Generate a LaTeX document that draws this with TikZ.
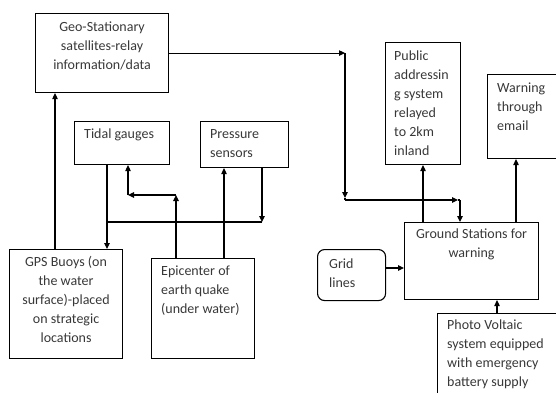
\documentclass[tikz,border=0pt]{standalone}
\usepackage{fontspec}
\setmainfont{Carlito}
\usetikzlibrary{arrows.meta}
\begin{document}
\begin{tikzpicture}[x=1pt,y=-1pt,
  box/.style={draw, line width=1.1pt, inner sep=0pt, anchor=north west},
  txt/.style={font=\fontsize{14}{19}\selectfont, inner sep=0pt, text=black!78},
  ln/.style={line width=1.1pt},
  arr/.style={line width=1.1pt, -{Triangle[length=6pt,width=5.5pt]}}]
\useasboundingbox (0,0) rectangle (556,392);
\clip (0,0) rectangle (556,392);
% boxes
\node[box, minimum width=133pt, minimum height=79pt] (geo) at (35,13) {};
\node[box, minimum width=95pt, minimum height=43pt] (tidal) at (74,121) {};
\node[box, minimum width=88pt, minimum height=46pt] (press) at (200,121) {};
\node[box, minimum width=75pt, minimum height=122pt] (pub) at (385,42) {};
\node[box, minimum width=80pt, minimum height=84pt] (warn) at (487,74) {};
\node[box, minimum width=134pt, minimum height=77pt] (ground) at (404,222) {};
\node[box, rounded corners=7pt, minimum width=68pt, minimum height=51pt] (grid) at (317,249) {};
\node[box, minimum width=113pt, minimum height=109pt] (gps) at (9,249) {};
\node[box, minimum width=103pt, minimum height=100pt] (epi) at (151,258) {};
\node[box, minimum width=130pt, minimum height=100pt] (pv) at (437,313) {};
% texts
\node[txt, anchor=north, align=center] (geot) at ([yshift=-4.5pt]geo.north) {\strut Geo-Stationary\\satellites-relay\\information/data};
\node[txt, anchor=north west, align=left] (tidalt) at ([xshift=10pt,yshift=-4pt]tidal.north west) {\strut Tidal gauges};
\node[txt, anchor=north west, align=left] (presst) at ([xshift=10pt,yshift=-4pt]press.north west) {\strut Pressure\\sensors};
\node[txt, anchor=north west, align=left] (pubt) at ([xshift=9pt,yshift=-5pt]pub.north west) {\strut Public\\addressin\\g system\\relayed\\to 2km\\inland};
\node[txt, anchor=north west, align=left] (warnt) at ([xshift=10pt,yshift=-5pt]warn.north west) {\strut Warning\\through\\email};
\node[txt, anchor=north, align=center] (groundt) at ([yshift=-3pt]ground.north) {\strut Ground Stations for\\warning};
\node[txt, anchor=north west, align=left] (gridt) at ([xshift=12pt,yshift=-6pt]grid.north west) {\strut Grid\\lines};
\node[txt, anchor=north, align=center] (gpst) at ([yshift=-4pt]gps.north) {\strut GPS Buoys (on\\the water\\surface)-placed\\on strategic\\locations};
\node[txt, anchor=north west, align=left] (epit) at ([xshift=10pt,yshift=-4pt]epi.north west) {\strut Epicenter of\\earth quake\\(under water)};
\node[txt, anchor=north west, align=left] (pvt) at ([xshift=10pt,yshift=-3pt]pv.north west) {\strut Photo Voltaic\\system equipped\\with emergency\\battery supply};
% helper coordinates
\coordinate (xa) at (55,0);
\coordinate (xb) at (107,0);
\coordinate (j1) at (262,222);
\coordinate (e1) at (176,195);
\coordinate (e2) at (128,195);
\coordinate (xc) at (224,0);
\coordinate (g1) at (345,0);
\coordinate (g2) at (345,198);
\coordinate (g3) at (345,200);
\coordinate (g4) at (458,200);
\coordinate (g5) at (460,200);
\coordinate (xd) at (423,0);
\coordinate (xe) at (516,0);
\coordinate (yf) at (0,268);
\coordinate (xg) at (497,0);
% connectors
\draw[arr] (gps.north -| xa) -- (geo.south -| xa);
\draw[arr] (tidal.south -| xb) -- (gps.north -| xb);
\draw[arr] (press.south -| j1) -- (j1);
\draw[ln] (j1) -- (j1 -| xb);
\draw[arr] (epi.north -| e1) -- (e1);
\draw[arr] (e1) -- (e2);
\draw[arr] (e2) -- (tidal.south -| e2);
\draw[arr] (epi.north -| xc) -- (press.south -| xc);
\draw[arr] (geo.east) -- (geo.east -| g1);
\draw[arr] (geo.east -| g1) -- (g2);
\draw[ln] (g2) -- (g3);
\draw[arr] (g3) -- (g4);
\draw[ln] (g4) -- (g5);
\draw[arr] (g5) -- (ground.north -| g5);
\draw[arr] (ground.north -| xd) -- (pub.south -| xd);
\draw[arr] (ground.north -| xe) -- (warn.south -| xe);
\draw[arr] (grid.east |- yf) -- (ground.west |- yf);
\draw[arr] (pv.north -| xg) -- (ground.south -| xg);
\end{tikzpicture}
\end{document}
